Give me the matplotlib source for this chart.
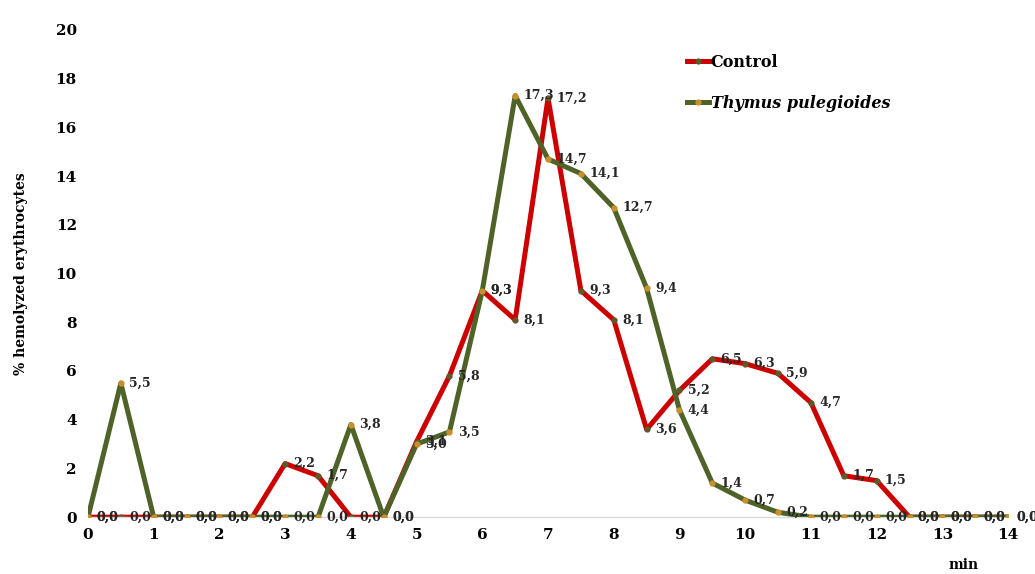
import matplotlib
matplotlib.use("Agg")
import matplotlib.pyplot as plt
import numpy as np

# time points (min)
minutes = [0, 0.5, 1, 1.5, 2, 2.5, 3, 3.5, 4, 4.5, 5, 5.5, 6, 6.5, 7,
           7.5, 8, 8.5, 9, 9.5, 10, 10.5, 11, 11.5, 12, 12.5, 13, 13.5, 14]

control = [0.0, 0.0, 0.0, 0.0, 0.0, 0.0, 2.2, 1.7, 0.0, 0.0, 3.1, 5.8, 9.3, 8.1, 17.2,
           9.3, 8.1, 3.6, 5.2, 6.5, 6.3, 5.9, 4.7, 1.7, 1.5, 0.0, 0.0, 0.0, 0.0]

thymus = [0.0, 5.5, 0.0, 0.0, 0.0, 0.0, 0.0, 0.0, 3.8, 0.0, 3.0, 3.5, 9.3, 17.3, 14.7,
          14.1, 12.7, 9.4, 4.4, 1.4, 0.7, 0.2, 0.0, 0.0, 0.0, 0.0, 0.0, 0.0, 0.0]

x_ticks = list(range(0, 15))
y_ticks = list(range(0, 21, 2))

plt.rcParams['font.family'] = ['DejaVu Serif']

fig = plt.figure(figsize=(10.35, 5.74), dpi=100)
ax = fig.add_axes([0.085, 0.099, 0.889, 0.849])

ax.plot(minutes, thymus, color="#4f6228", lw=3.6, marker="o", ms=3.5,
        mfc="#c8902c", mec="#c8902c", label="Thymus pulegioides", zorder=3)
ax.plot(minutes, control, color="#cc0000", lw=3.6, marker="o", ms=3.5,
        mfc="#5e5a2a", mec="#5e5a2a", label="Control", zorder=2)

for series in (control, thymus):
    for xv, yv in zip(minutes, series):
        ax.annotate(f"{yv:.1f}".replace(".", ","), (xv, yv), xytext=(6, 0),
                    textcoords="offset points", ha="left", va="center",
                    fontsize=9, fontweight="bold", color="#262626", zorder=4,
                    annotation_clip=False)

ax.set_xlim(0, 14)
ax.set_ylim(0, 20)
ax.set_xticks(x_ticks)
ax.set_yticks(y_ticks)
ax.tick_params(length=0, labelsize=11, pad=8)
for lab in ax.get_xticklabels() + ax.get_yticklabels():
    lab.set_fontweight("bold")

for s in ("top", "right", "left"):
    ax.spines[s].set_visible(False)
ax.spines["bottom"].set_color("#d9d9d9")
ax.spines["bottom"].set_linewidth(1)

ax.set_ylabel("% hemolyzed erythrocytes", fontsize=10, fontweight="bold", labelpad=20)
fig.text(0.916, 0.003, "min", fontsize=10, fontweight="bold", ha="left", va="bottom")

handles, labels = ax.get_legend_handles_labels()
leg = ax.legend(handles[::-1], labels[::-1], loc="upper left",
                bbox_to_anchor=(0.635, 0.98), frameon=False, handlelength=1.4,
                handletextpad=0.1, labelspacing=1.5,
                prop={"size": 11.5, "weight": "bold"})
leg.get_texts()[1].set_fontstyle("italic")

fig.savefig("out.png", dpi=100)
